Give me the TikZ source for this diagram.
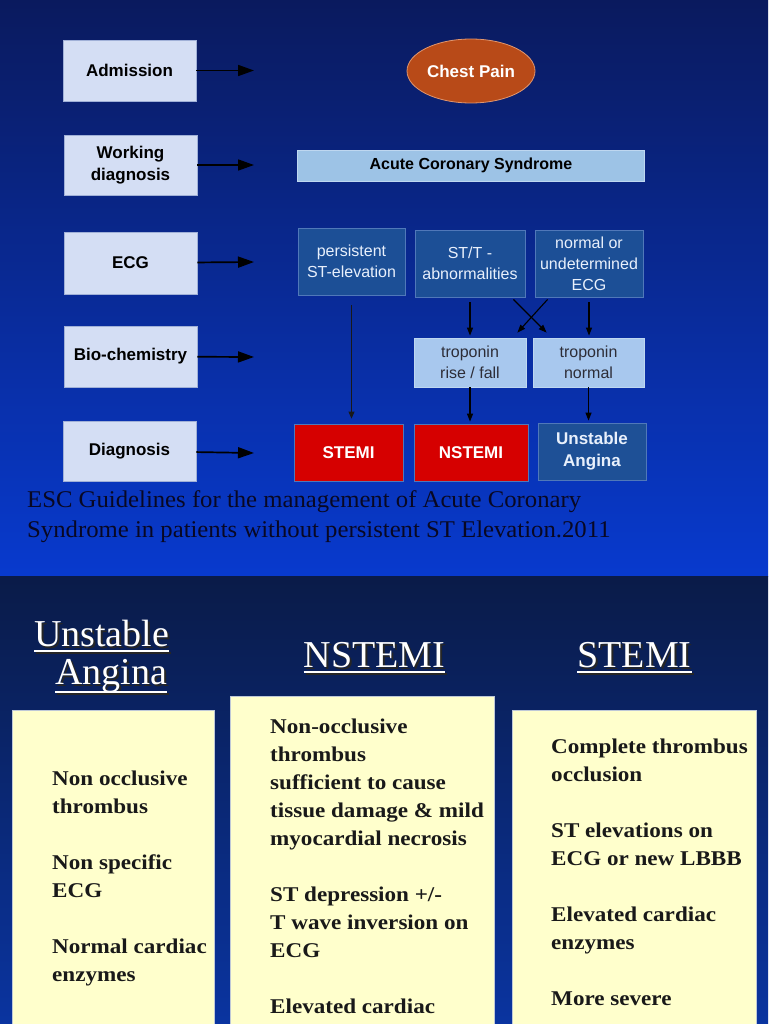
\documentclass[tikz,border=0pt]{standalone}
\usepackage{fontspec}
\setmainfont{Liberation Serif}
\newfontfamily\sansf{Liberation Sans}
\newfontfamily\boxserif{Liberation Serif}[FakeStretch=1.1]
\newfontfamily\capfont{Liberation Serif}[FakeStretch=1.03]
\usetikzlibrary{arrows.meta,calc,shapes.geometric}
\definecolor{topA}{RGB}{10,26,94}
\definecolor{topB}{RGB}{8,58,206}
\definecolor{botA}{RGB}{10,27,72}
\definecolor{botB}{RGB}{10,52,160}
\definecolor{lav}{RGB}{212,222,244}
\definecolor{lavline}{RGB}{160,176,215}
\definecolor{chest}{RGB}{184,74,24}
\definecolor{chestline}{RGB}{225,150,110}
\definecolor{acs}{RGB}{157,195,230}
\definecolor{acsline}{RGB}{190,215,240}
\definecolor{ecgfill}{RGB}{28,79,150}
\definecolor{ecgline}{RGB}{80,120,185}
\definecolor{ecgtext}{RGB}{232,240,252}
\definecolor{tropfill}{RGB}{168,200,238}
\definecolor{troptext}{RGB}{45,45,55}
\definecolor{stemired}{RGB}{214,0,0}
\definecolor{uafill}{RGB}{30,80,150}
\definecolor{capt}{RGB}{8,8,35}
\definecolor{paleyellow}{RGB}{255,255,204}
\definecolor{yline}{RGB}{190,200,215}
\definecolor{txtdark}{RGB}{25,25,25}
\begin{document}
\begin{tikzpicture}[x=1pt,y=-1pt,
  lbox/.style={rectangle, fill=lav, draw=lavline, line width=0.8pt, minimum width=133pt, inner sep=2pt,
    font=\sansf\bfseries\fontsize{17}{22}\selectfont, align=center, text=black},
  ecgbox/.style={rectangle, fill=ecgfill, draw=ecgline, line width=0.8pt, minimum height=67pt, inner sep=2pt,
    font=\sansf\fontsize{16}{21}\selectfont, align=center, text=ecgtext},
  tropbox/.style={rectangle, fill=tropfill, draw=acsline, line width=0.8pt, minimum height=49pt, inner sep=2pt,
    font=\sansf\fontsize{16}{21}\selectfont, align=center, text=troptext},
  diagbox/.style={rectangle, draw=ecgline, line width=0.8pt, minimum height=57pt, inner sep=2pt,
    font=\sansf\bfseries\fontsize{17}{22}\selectfont, align=center, text=white},
  harr/.style={line width=1.7pt, draw=black, -{Triangle[length=16pt,width=11pt]}},
  varr/.style={line width=1.1pt, draw=black, -{Triangle[length=8pt,width=6pt]}},
  thinarr/.style={line width=0.9pt, draw=black!90, -{Triangle[length=7pt,width=6pt]}},
  capstyle/.style={anchor=base west, inner sep=0pt, font=\capfont\fontsize{24}{30}\selectfont, text=capt},
  hdr/.style={inner sep=0pt, font=\fontsize{38}{38}\selectfont, text=white},
  hdrsh/.style={inner sep=0pt, font=\fontsize{38}{38}\selectfont, text=black!85},
  uline/.style={line width=1.8pt, draw=white},
  ulinesh/.style={line width=1.8pt, draw=black!85},
  ybox/.style={rectangle, fill=paleyellow, draw=yline, line width=1pt, anchor=north west, inner sep=0pt},
  btxt/.style={anchor=north west, inner sep=0pt, align=left, text=txtdark,
    font=\boxserif\bfseries\fontsize{21}{28}\selectfont}
]
\useasboundingbox (0,0) rectangle (768,1024);
% backgrounds
\shade[top color=topA, bottom color=topB] (0,0) rectangle (768,576);
\shade[top color=botA, bottom color=botB] (0,576) rectangle (768,1024);

% left column
\node[lbox, minimum height=61pt] (adm) at (129.5,70.5) {Admission};
\node[lbox, minimum height=60pt] (work) at (130.5,165) {Working\\diagnosis};
\node[lbox, minimum height=62pt] (ecg) at (130.5,263) {ECG};
\node[lbox, minimum height=61pt] (bio) at (130.5,356.5) {Bio-chemistry};
\node[lbox, minimum height=60pt] (diag) at (129.5,451) {Diagnosis};

\coordinate (adm-e) at (254,70.5);
\coordinate (work-e) at (254,165);
\coordinate (ecg-e) at (254,262);
\coordinate (bio-e) at (254,357);
\coordinate (diag-e) at (254,453);
\draw[harr] (adm) -- (adm-e);
\draw[harr] (work) -- (work-e);
\draw[harr] (ecg) -- (ecg-e);
\draw[harr] (bio) -- (bio-e);
\draw[harr] (diag) -- (diag-e);

% chest pain
\node[ellipse, fill=chest, draw=chestline, line width=0.8pt, minimum width=128pt, minimum height=64pt, inner sep=0pt,
  font=\sansf\bfseries\fontsize{17}{22}\selectfont, text=white] (chest) at (471,71) {Chest Pain};

% ACS
\node[rectangle, fill=acs, draw=acsline, line width=0.8pt, minimum width=347pt, minimum height=31pt, inner sep=0pt,
  font=\sansf\bfseries\fontsize{16}{20}\selectfont, text=black] (acs) at (471,165.5) {Acute Coronary Syndrome};

% ECG row
\node[ecgbox, minimum width=107pt] (pst) at (351.5,261.5) {persistent\\ST-elevation};
\node[ecgbox, minimum width=110pt] (stt) at (470,263.5) {ST/T -\\abnormalities};
\node[ecgbox, minimum width=108pt] (norm) at (589,263.5) {normal or\\undetermined\\ECG};

% troponin
\node[tropbox, minimum width=112pt] (trf) at (470,362.5) {troponin\\rise / fall};
\node[tropbox, minimum width=111pt] (tn) at (588.5,362.5) {troponin\\normal};

% diagnosis row
\node[diagbox, fill=stemired, minimum width=109pt] (stemi) at (348.5,452.5) {STEMI};
\node[diagbox, fill=stemired, minimum width=114pt] (nstemi) at (471,452.5) {NSTEMI};
\node[diagbox, fill=uafill, minimum width=108pt, text=ecgtext] (ua) at (592,451.5) {Unstable\\Angina};

% flow arrows
\draw[thinarr, shorten <=10pt, shorten >=5pt] (pst.south) -- (pst.south |- stemi.north);
\draw[varr, shorten <=5pt, shorten >=2pt] (stt.south) -- (stt.south |- trf.north);
\draw[varr, shorten <=5pt, shorten >=2pt] (norm.south) -- (norm.south |- tn.north);
\draw[varr] ($(stt.south east)+(-12,2)$) -- ($(tn.north west)+(14,-5)$);
\draw[varr] ($(norm.south west)+(13,2)$) -- ($(trf.north east)+(-9,-5)$);
\draw[varr, shorten >=2pt] (trf.south) -- (trf.south |- nstemi.north);
\draw[varr, shorten >=2pt] (tn.south) -- (tn.south |- ua.north);

% caption
\node[capstyle] (cap1) at (27,507) {ESC Guidelines for the management of Acute Coronary};
\node[capstyle] (cap2) at (27,537) {Syndrome in patients without persistent ST Elevation.2011};

% lower slide headers (shadow then text)
\node[hdrsh, anchor=base west] (hUA1s) at (36,648) {Unstable};
\node[hdrsh, anchor=base west] (hUA2s) at (57,686) {Angina};
\node[hdrsh, anchor=base] (hNs) at (376.5,669) {NSTEMI};
\node[hdrsh, anchor=base] (hSs) at (636.5,669) {STEMI};
\draw[ulinesh] ($(hUA1s.base west)+(0,5)$) -- ($(hUA1s.base east)+(0,5)$);
\draw[ulinesh] ($(hUA2s.base west)+(0,8)$) -- ($(hUA2s.base east)+(0,8)$);
\draw[ulinesh] ($(hNs.base west)+(0,5)$) -- ($(hNs.base east)+(0,5)$);
\draw[ulinesh] ($(hSs.base west)+(0,5)$) -- ($(hSs.base east)+(0,5)$);

\node[hdr, anchor=base west] (hUA1) at (34,646) {Unstable};
\node[hdr, anchor=base west] (hUA2) at (55,684) {Angina};
\node[hdr, anchor=base] (hN) at (374.5,667) {NSTEMI};
\node[hdr, anchor=base] (hS) at (634.5,667) {STEMI};
\draw[uline] ($(hUA1.base west)+(0,5)$) -- ($(hUA1.base east)+(0,5)$);
\draw[uline] ($(hUA2.base west)+(0,8)$) -- ($(hUA2.base east)+(0,8)$);
\draw[uline] ($(hN.base west)+(0,5)$) -- ($(hN.base east)+(0,5)$);
\draw[uline] ($(hS.base west)+(0,5)$) -- ($(hS.base east)+(0,5)$);

% yellow boxes
\node[ybox, minimum width=202pt, minimum height=330pt] (uab) at (12,710) {};
\node[ybox, minimum width=264pt, minimum height=345pt] (nsb) at (230,696) {};
\node[ybox, minimum width=244pt, minimum height=330pt] (stb) at (512,710) {};

\node[btxt] (uat) at (52,770.5) {Non occlusive\\thrombus\\[28pt]Non specific\\ECG\\[28pt]Normal cardiac\\enzymes};
\node[btxt] (nst) at (270,718.5) {Non-occlusive\\thrombus\\sufficient to cause\\tissue damage \& mild\\myocardial necrosis\\[28pt]ST depression +/-\\T wave inversion on\\ECG\\[28pt]Elevated cardiac};
\node[btxt] (stt2) at (551,738.5) {Complete thrombus\\occlusion\\[28pt]ST elevations on\\ECG or new LBBB\\[28pt]Elevated cardiac\\enzymes\\[28pt]More severe};
\end{tikzpicture}
\end{document}
